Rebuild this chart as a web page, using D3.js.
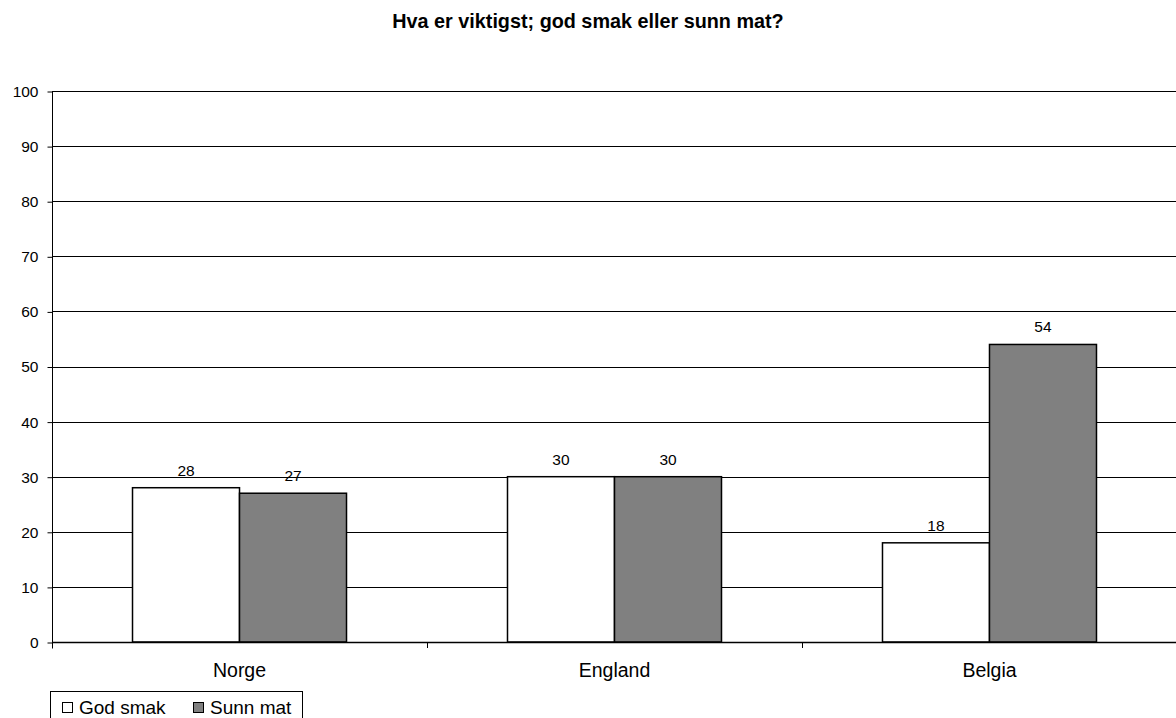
<!DOCTYPE html>
<html><head><meta charset="utf-8">
<script src="https://cdn.jsdelivr.net/npm/d3@7"></script>
<style>html,body{margin:0;padding:0;background:#fff;overflow:hidden}</style>
</head><body>
<svg id="chart" width="1176" height="718"></svg>
<script>
const title = "Hva er viktigst; god smak eller sunn mat?";
const categories = ["Norge", "England", "Belgia"];
const seriesNames = ["God smak", "Sunn mat"];
const godSmak = [28, 30, 18];
const sunnMat = [27, 30, 54];
const yTicks = [0, 10, 20, 30, 40, 50, 60, 70, 80, 90, 100];
const colors = ["#ffffff", "#808080"];

(function () {
const svg = d3.select("#chart");
const font = "Arial, 'Liberation Sans', sans-serif";
const pLeft = 52, pRight = 1177, pTop = 91, pBottom = 642;

const x = d3.scaleBand().domain(categories).range([pLeft, pRight]).paddingInner(0.4293).paddingOuter(0.2147);
const xs = d3.scaleBand().domain(seriesNames).range([0, x.bandwidth()]);
const y = d3.scaleLinear().domain([0, 100]).range([pBottom, pTop]);

// title
svg.append("text").attr("x", 588).attr("y", 28).attr("text-anchor", "middle")
  .attr("font-family", font).attr("font-weight", "bold").attr("font-size", 19.8).attr("fill", "#000").text(title);

// gridlines
svg.append("g").selectAll("line").data(yTicks.filter(d => d > 0)).join("line")
  .attr("x1", pLeft).attr("x2", 1176)
  .attr("y1", d => Math.round(y(d)) + 0.5).attr("y2", d => Math.round(y(d)) + 0.5)
  .attr("stroke", "#000").attr("stroke-width", 1);

// bars
const data = categories.map((c, i) => ({c, vals: [godSmak[i], sunnMat[i]]}));
const g = svg.append("g");
data.forEach(d => {
  d.vals.forEach((v, j) => {
    const bx = x(d.c) + xs(seriesNames[j]);
    g.append("rect").attr("x", bx).attr("y", y(v)).attr("width", xs.bandwidth()).attr("height", y(0) - y(v))
      .attr("fill", colors[j]).attr("stroke", "#000").attr("stroke-width", 1.5);
    g.append("text").attr("x", bx + xs.bandwidth() / 2).attr("y", y(v) - 12).attr("text-anchor", "middle")
      .attr("font-family", font).attr("font-size", 15.5).attr("fill", "#000").text(v);
  });
});

// y axis
const yAxis = d3.axisLeft(y).tickValues(yTicks).tickSize(5).tickPadding(9);
const ya = svg.append("g").attr("transform", `translate(${pLeft + 0.5},0.5)`).call(yAxis);
ya.select(".domain").attr("d", `M0,${pTop}V${pBottom + 6}`).attr("stroke", "#000");
ya.selectAll(".tick line").attr("stroke", "#000");
ya.selectAll(".tick text").attr("font-family", font).attr("font-size", 15.5).attr("fill", "#000");

// x axis
const xAxis = d3.axisBottom(x).tickSize(0).tickPadding(21);
const xa = svg.append("g").attr("transform", `translate(0,${pBottom + 0.5})`).call(xAxis);
xa.select(".domain").attr("d", `M${pLeft},0H1176`).attr("stroke", "#000").attr("stroke-width", 1.5);
xa.selectAll(".tick text").attr("font-family", font).attr("font-size", 19.5).attr("fill", "#000");
svg.append("g").selectAll("line").data(categories.map((c, i) => pLeft + x.step() * (i + 1))).join("line")
  .attr("x1", d => Math.round(d) + 0.5).attr("x2", d => Math.round(d) + 0.5)
  .attr("y1", pBottom).attr("y2", pBottom + 6).attr("stroke", "#000");

// legend
const lg = svg.append("g");
lg.append("rect").attr("x", 50.5).attr("y", 691.5).attr("width", 252).attr("height", 40)
  .attr("fill", "#fff").attr("stroke", "#000");
const legendX = [62, 193];
seriesNames.forEach((s, j) => {
  lg.append("rect").attr("x", legendX[j] + 0.5).attr("y", 702.5).attr("width", 10).attr("height", 10)
    .attr("fill", colors[j]).attr("stroke", "#000");
  lg.append("text").attr("x", legendX[j] + 17).attr("y", 713.5).attr("font-family", font)
    .attr("font-size", 19).attr("fill", "#000").text(s);
});
})();
</script>
</body></html>
